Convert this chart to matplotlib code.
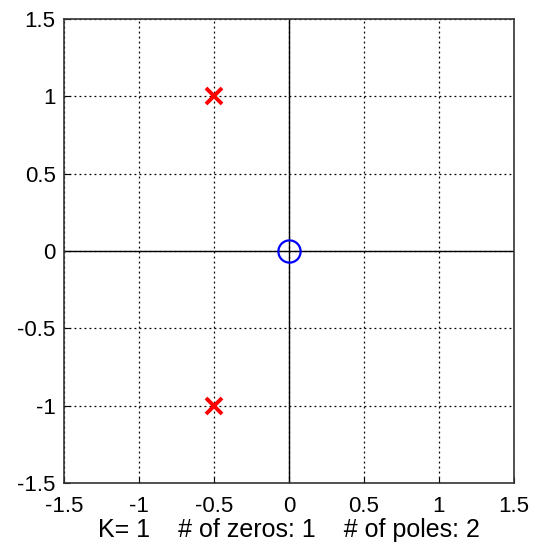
import matplotlib
matplotlib.use("Agg")
import matplotlib.pyplot as plt

plt.rcParams['font.family'] = ['Liberation Sans', 'DejaVu Sans']

pole_re = [-0.5, -0.5]
pole_im = [1.0, -1.0]
zero_re = [0.0]
zero_im = [0.0]
ticks = [-1.5, -1, -0.5, 0, 0.5, 1, 1.5]
tick_labels = ['-1.5', '-1', '-0.5', '0', '0.5', '1', '1.5']
K = 1

fig = plt.figure(figsize=(5.49, 5.51), dpi=100)
ax = fig.add_axes([64/549, 1 - 483/551, 450/549, 464/551])
ax.set_xlim(-1.5, 1.5)
ax.set_ylim(-1.5, 1.5)
ax.grid(True, linestyle=(0, (1.5, 2.5)), color='black', linewidth=0.9)
ax.axhline(0, color='black', linewidth=1.0, zorder=2)
ax.axvline(0, color='black', linewidth=1.0, zorder=2)
ax.plot(pole_re, pole_im, linestyle='none', marker='x', color='red',
        markersize=12, markeredgewidth=2.8, zorder=3)
ax.plot(zero_re, zero_im, linestyle='none', marker='o', markerfacecolor='none',
        markeredgecolor='blue', markersize=16, markeredgewidth=1.6, zorder=3)
ax.set_xticks(ticks)
ax.set_xticklabels(tick_labels)
ax.set_yticks(ticks)
ax.set_yticklabels(tick_labels)
ax.tick_params(direction='in', length=4, labelsize=16, width=0.8)
ax.tick_params(axis='x', pad=9)
ax.tick_params(axis='y', pad=6)
for s in ax.spines.values():
    s.set_linewidth(1.2)
    s.set_color('#333333')
ax.set_xlabel(f'K= {K}    # of zeros: {len(zero_re)}    # of poles: {len(pole_re)}',
              fontsize=18, labelpad=1)
fig.savefig('out.png', dpi=100)
